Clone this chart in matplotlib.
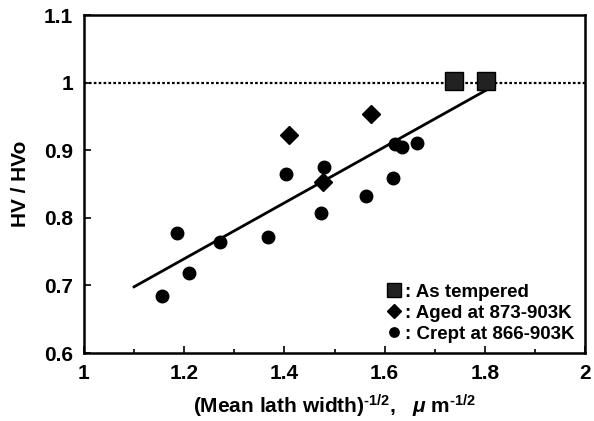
import numpy as np
from matplotlib import pyplot as plt
from matplotlib.ticker import MultipleLocator

plt.rcParams['font.family'] = 'Liberation Sans'
plt.rcParams['font.weight'] = 'bold'
plt.rcParams['mathtext.fontset'] = 'custom'
plt.rcParams['mathtext.rm'] = 'Liberation Sans:bold'
plt.rcParams['mathtext.it'] = 'Liberation Sans:italic:bold'
plt.rcParams['mathtext.bf'] = 'Liberation Sans:bold'

# As tempered
x_temp = np.array([1.739, 1.802])
y_temp = np.array([1.002, 1.002])
# Aged at 873-903K
x_aged = np.array([1.410, 1.572, 1.476])
y_aged = np.array([0.922, 0.953, 0.853])
# Crept at 866-903K
x_crept = np.array([1.156, 1.186, 1.209, 1.271, 1.368, 1.403, 1.473, 1.478,
                    1.563, 1.617, 1.621, 1.635, 1.665])
y_crept = np.array([0.685, 0.777, 0.719, 0.765, 0.771, 0.865, 0.807, 0.876,
                    0.833, 0.859, 0.910, 0.905, 0.911])
# regression line
x_fit = np.array([1.10, 1.805])
y_fit = np.array([0.698, 0.990])

fig = plt.figure(figsize=(5.94, 4.21), dpi=100)
ax = fig.add_axes([0.1414, 0.1615, 0.8436, 0.8025])

ax.axhline(1.0, color='black', ls=(0, (1.2, 1.0)), lw=1.6, zorder=1)
ax.plot(x_fit, y_fit, color='black', lw=2, zorder=2)
ax.plot(x_temp, y_temp, 's', color='#222222', mec='black', ms=13,
        label=': As tempered', zorder=3)
ax.plot(x_aged, y_aged, 'D', color='black', ms=9.5,
        label=': Aged at 873-903K', zorder=3)
ax.plot(x_crept, y_crept, 'o', color='black', ms=9,
        label=': Crept at 866-903K', zorder=3)

ax.set_xlim(1, 2)
ax.set_ylim(0.6, 1.1)
ax.xaxis.set_minor_locator(MultipleLocator(0.1))
ax.set_xticks([1, 1.2, 1.4, 1.6, 1.8, 2])
ax.set_xticklabels(['1', '1.2', '1.4', '1.6', '1.8', '2'])
ax.set_yticks([0.6, 0.7, 0.8, 0.9, 1.0, 1.1])
ax.set_yticklabels(['0.6', '0.7', '0.8', '0.9', '1', '1.1'])
ax.tick_params(which='both', direction='in', labelsize=15, width=1.2)
ax.tick_params(which='major', length=5)
ax.tick_params(which='minor', length=3)
ax.tick_params(axis='x', pad=8)
ax.tick_params(axis='y', pad=8)
for s in ax.spines.values():
    s.set_linewidth(1.8)

ax.set_ylabel('HV / HVo', fontsize=15, fontweight='bold', labelpad=10)
ax.set_xlabel(r'(Mean lath width)$^{\text{-1/2}}$,   $\mu$ m$^{\text{-1/2}}$',
              fontsize=15, fontweight='bold', labelpad=7)

ax.legend(loc='lower right', frameon=False, fontsize=13.5, handletextpad=0.1,
          handlelength=1.0, labelspacing=0.2, borderaxespad=0.15,
          markerscale=0.75)

fig.savefig('out.png', dpi=100)
